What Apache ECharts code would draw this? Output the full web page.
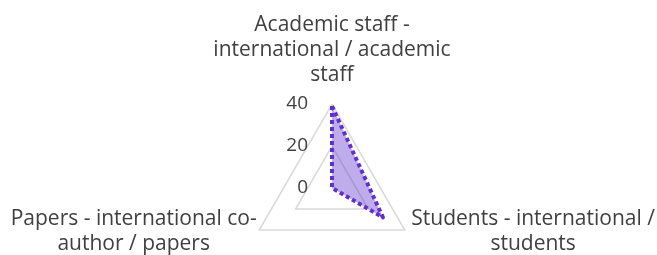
<!DOCTYPE html>
<html>
<head>
<meta charset="utf-8">
<script src="https://cdn.jsdelivr.net/npm/echarts@6/dist/echarts.min.js"></script>
<style>
    html, body {margin: 0; padding: 0; background: #fff;}
    #chart {width: 657px; height: 255px;}
</style>
</head>
<body>
<div id="chart"></div>
<script>
// indicators (counter-clockwise from top, as echarts lays them out)
const indicatorNames = [
    'Academic staff -\ninternational / academic\nstaff',
    'Papers - international co-\nauthor / papers',
    'Students - international /\nstudents'
];
const indicatorMax = 40;
const seriesValues = [39, 0, 28];

const TEXT_COLOR = '#404040';
const FONT = '"Open Sans", sans-serif';

let myChart = echarts.init(document.getElementById('chart'), null, {renderer: 'canvas'});

function nameFormatter(name) {
    let lines = name.split('\n');
    if (name.indexOf('Academic') === 0) {
        // spacer under the last line lifts the block off the top vertex
        return lines.map(l => '{c|' + l + '}').join('\n') + '\n{sp| }';
    }
    if (name.indexOf('Students') === 0) {
        return lines.map(l => '{r|' + l + '}').join('\n');
    }
    return lines.map(l => '{c|' + l + '}').join('\n');
}

let option = {
    backgroundColor: '#fff',
    radar: {
        center: [332, 188],
        radius: 84,
        startAngle: 90,
        shape: 'polygon',
        splitNumber: 2,
        nameGap: 3,
        indicator: indicatorNames.map(function (n, i) {
            let ind = {name: n, min: 0, max: indicatorMax};
            if (i === 0) {
                ind.axisLabel = {
                    show: true,
                    color: TEXT_COLOR,
                    fontFamily: FONT,
                    fontSize: 19,
                    margin: 24
                };
            }
            return ind;
        }),
        axisName: {
            color: TEXT_COLOR,
            fontFamily: FONT,
            fontSize: 21,
            formatter: nameFormatter,
            rich: {
                c: {align: 'center', color: TEXT_COLOR, fontFamily: FONT, fontSize: 21, lineHeight: 25},
                r: {align: 'center', color: TEXT_COLOR, fontFamily: FONT, fontSize: 21, lineHeight: 25, padding: [0, 0, 0, 4]},
                sp: {height: 7, lineHeight: 7, fontSize: 4}
            }
        },
        axisLine: {show: false},
        axisTick: {show: false},
        axisLabel: {show: false},
        splitArea: {show: false},
        splitLine: {lineStyle: {color: '#d9d9d9', width: 1.5}}
    },
    series: [{
        type: 'radar',
        symbol: 'none',
        lineStyle: {color: '#5e30c9', width: 4, type: [4, 3]},
        areaStyle: {color: 'rgba(100,60,204,0.6)'},
        data: [{value: seriesValues, name: 'international'}]
    }]
};

myChart.setOption(option);
</script>
</body>
</html>
